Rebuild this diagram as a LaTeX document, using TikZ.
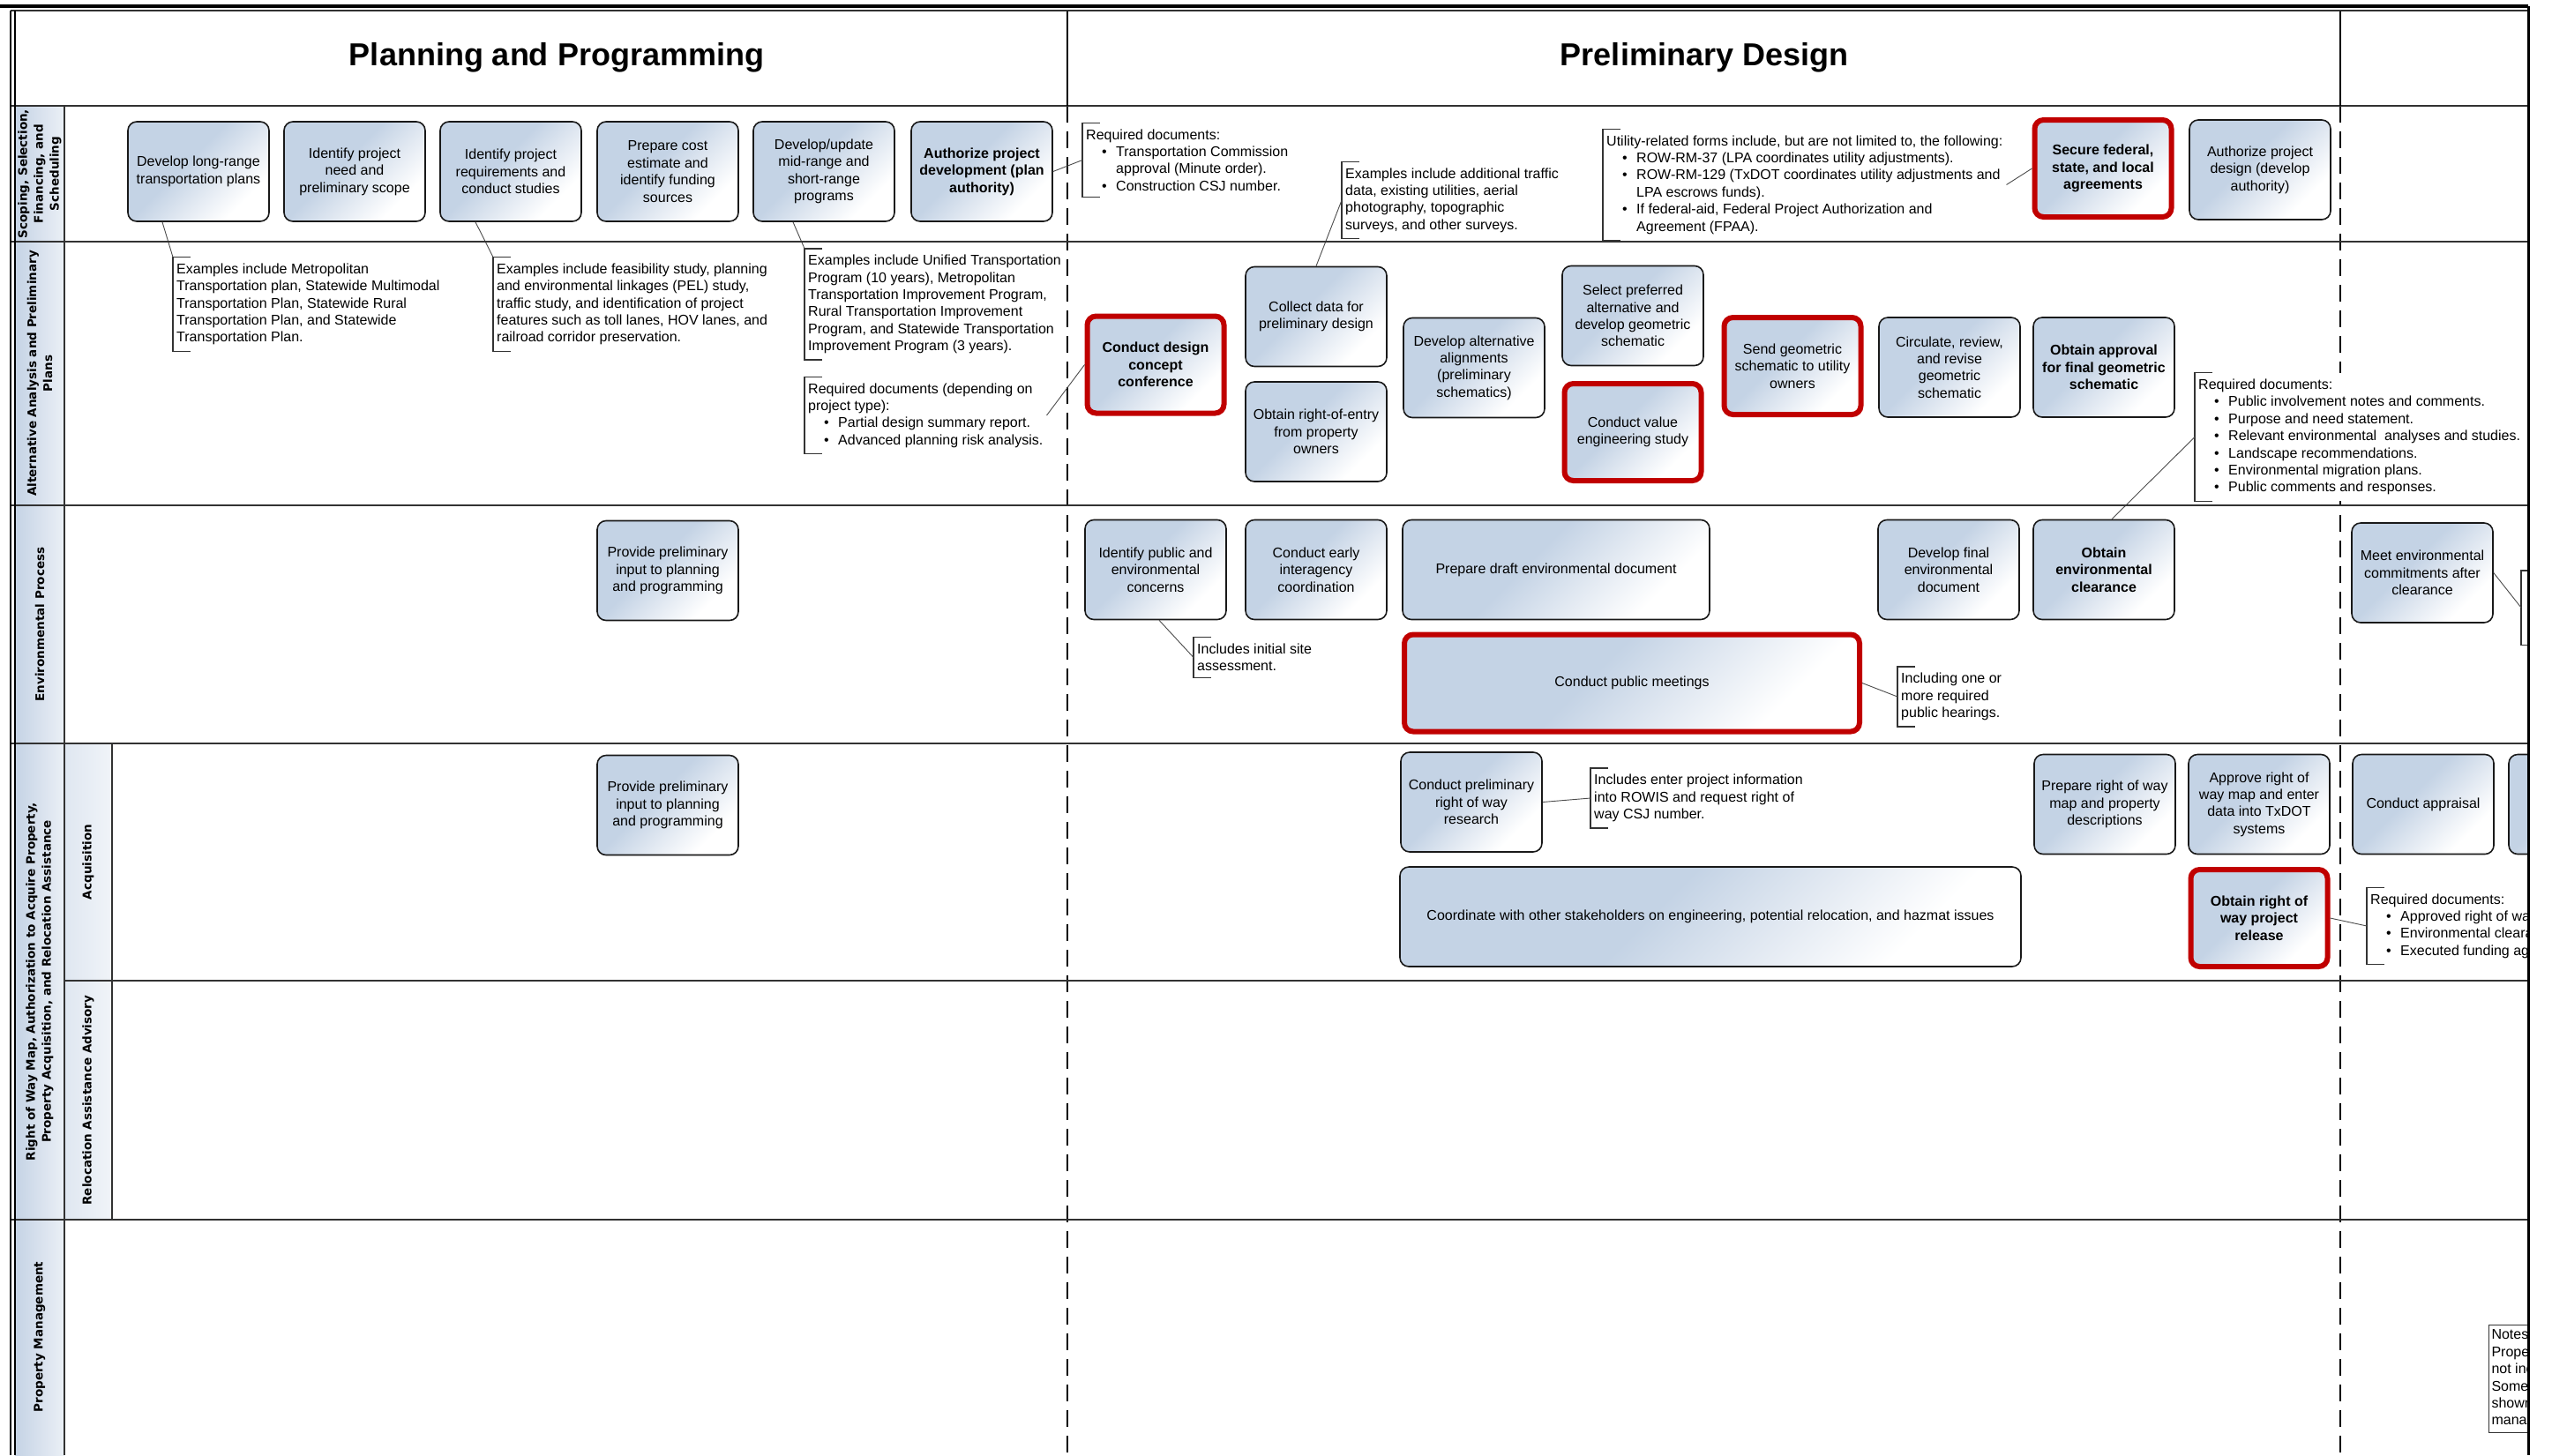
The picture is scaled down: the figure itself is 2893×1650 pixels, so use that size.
\documentclass[tikz,border=0pt]{standalone}
\usepackage{fontspec}
\setmainfont{Liberation Sans}
\newfontfamily\lanefont{DejaVu Sans}
\usetikzlibrary{calc}
\definecolor{boxblue}{RGB}{196,211,229}
\definecolor{boxmid}{RGB}{226,233,242}
\definecolor{boxred}{RGB}{192,0,0}
\definecolor{lanebl}{RGB}{197,211,229}
\definecolor{gridc}{RGB}{50,50,50}
\pgfdeclareverticalshading{boxsh}{100bp}{color(0bp)=(white); color(28bp)=(white); color(42bp)=(boxmid); color(56bp)=(boxblue); color(100bp)=(boxblue)}
\newcommand\bxf{\fontsize{16}{19.4}\selectfont}
\newcommand\lnf{\lanefont\bfseries\fontsize{13.5}{18}\selectfont}
\newcommand\nbul[1]{\hspace*{18pt}\makebox[16pt][l]{\textbullet}#1}
\newcommand\ncont[1]{\hspace*{34pt}#1}
\begin{document}
\begin{tikzpicture}[x=1pt,y=-1pt,
  box/.style={draw=black!90, line width=1.6pt, rounded corners=10pt, shading=boxsh, shading angle=45,
    align=center, font=\bxf, inner sep=2pt, minimum width=160pt, minimum height=113pt},
  boldbox/.style={box, font=\bxf\bfseries},
  redbox/.style={box, draw=boxred, line width=6pt, minimum width=155pt, minimum height=110pt},
  boldred/.style={redbox, font=\bxf\bfseries},
  note/.style={anchor=west, align=left, font=\bxf, fill=white, inner xsep=4pt, inner ysep=7pt},
  conn/.style={draw=black!70, line width=0.9pt},
  brk/.style={draw=black!80, line width=1.4pt},
  lanelbl/.style={rotate=90, align=center, font=\lnf},
  gridl/.style={draw=gridc, line width=2.5pt},
  dashl/.style={draw=black, line width=2.6pt, dash pattern=on 19pt off 10pt},
  titlef/.style={font=\fontsize{36}{40}\selectfont\bfseries}
]
\useasboundingbox (0,0) rectangle (2893,1650);
\fill[white] (0,0) rectangle (2893,1650);
\begin{scope}
\clip (0,0) rectangle (2866,1650);
% label columns
\fill[left color=lanebl, right color=lanebl!35!white] (17,120) rectangle (73,1650);
\fill[left color=lanebl!55!white, right color=lanebl!25!white] (73,843) rectangle (127,1383);
% dashed phase lines
\draw[dashl] (1210,120) -- (1210,1650);
\draw[dashl] (2653,120) -- (2653,1650);
% titles
\node[titlef] (t1) at (631,65) {Planning and Programming};
\node[titlef] (t2) at (1932,65) {Preliminary Design};
% lane labels
\node[lanelbl] (L1) at (45,197) {Scoping, Selection,\\Financing, and\\Scheduling};
\node[lanelbl] (L2) at (45,423.5) {Alternative Analysis and Preliminary\\Plans};
\node[lanelbl] (L3) at (45,708) {Environmental Process};
\node[lanelbl] (L4) at (45,1113) {Right of Way Map, Authorization to Acquire Property,\\Property Acquisition, and Relocation Assistance};
\node[lanelbl] (L4a) at (100,977.5) {Acquisition};
\node[lanelbl] (L4b) at (100,1247.5) {Relocation Assistance Advisory};
\node[lanelbl] (L5) at (45,1516) {Property Management};
% lane 1
\node[box] (b1) at (225,194.5) {Develop long-range\\transportation plans};
\node[box] (b2) at (402,194.5) {Identify project\\need and\\preliminary scope};
\node[box] (b3) at (579,194.5) {Identify project\\requirements and\\conduct studies};
\node[box] (b4) at (757,194.5) {Prepare cost\\estimate and\\identify funding\\sources};
\node[box] (b5) at (934,194.5) {Develop/update\\mid-range and\\short-range\\programs};
\node[boldbox] (b6) at (1113,194.5) {Authorize project\\development (plan\\authority)};
\node[boldred] (secure) at (2384,191) {Secure federal,\\state, and local\\agreements};
\node[box] (authd) at (2562,192.5) {Authorize project\\design (develop\\authority)};
% lane 2
\node[boldred] (cdc) at (1310,413.5) {Conduct design\\concept\\conference};
\node[box] (collect) at (1492,359) {Collect data for\\preliminary design};
\node[box] (roe) at (1492,489.5) {Obtain right-of-entry\\from property\\owners};
\node[box] (devalt) at (1671,417) {Develop alternative\\alignments\\(preliminary\\schematics)};
\node[box] (select) at (1851,358) {Select preferred\\alternative and\\develop geometric\\schematic};
\node[redbox] (vestudy) at (1851,490) {Conduct value\\engineering study};
\node[redbox] (sendgeo) at (2032,415) {Send geometric\\schematic to utility\\owners};
\node[box] (circ) at (2210,416.5) {Circulate, review,\\and revise\\geometric\\schematic};
\node[boldbox] (oappr) at (2385,416.5) {Obtain approval\\for final geometric\\schematic};
% lane 3
\node[box] (ppin1) at (757,647) {Provide preliminary\\input to planning\\and programming};
\node[box] (ipec) at (1310,646) {Identify public and\\environmental\\concerns};
\node[box] (ceic) at (1492,646) {Conduct early\\interagency\\coordination};
\node[box, minimum width=348pt] (pdraft) at (1764,646) {Prepare draft environmental document};
\node[box] (dfinal) at (2209,646) {Develop final\\environmental\\document};
\node[boldbox] (oec) at (2385,646) {Obtain\\environmental\\clearance};
\node[box] (meet) at (2746,649.5) {Meet environmental\\commitments after\\clearance};
\node[redbox, minimum width=516pt] (cpm) at (1850,774.5) {Conduct public meetings};
% lane 4
\node[box] (ppin2) at (757,913) {Provide preliminary\\input to planning\\and programming};
\node[box] (rowr) at (1668,909.5) {Conduct preliminary\\right of way\\research};
\node[box] (prow) at (2386,912) {Prepare right of way\\map and property\\descriptions};
\node[box] (aprow) at (2561,912) {Approve right of\\way map and enter\\data into TxDOT\\systems};
\node[box] (appr) at (2747,912) {Conduct appraisal};
\node[box] (partial) at (2924,912) {};
\node[box, minimum width=704pt] (coord) at (1939,1039.5) {Coordinate with other stakeholders on engineering, potential relocation, and hazmat issues};
\node[boldred] (orr) at (2561,1041) {Obtain right of\\way project\\release};
% notes
\node[note] (nR) at (1227,181.5) {Required documents:\\\nbul{Transportation Commission}\\\ncont{approval (Minute order).}\\\nbul{Construction CSJ number.}};
\node[note] (nT) at (1521,227) {Examples include additional traffic\\data, existing utilities, aerial\\photography, topographic\\surveys, and other surveys.};
\node[note] (nU) at (1817,209.5) {Utility-related forms include, but are not limited to, the following:\\\nbul{ROW-RM-37 (LPA coordinates utility adjustments).}\\\nbul{ROW-RM-129 (TxDOT coordinates utility adjustments and}\\\ncont{LPA escrows funds).}\\\nbul{If federal-aid, Federal Project Authorization and}\\\ncont{Agreement (FPAA).}};
\node[note] (nA) at (196,345) {Examples include Metropolitan\\Transportation plan, Statewide Multimodal\\Transportation Plan, Statewide Rural\\Transportation Plan, and Statewide\\Transportation Plan.};
\node[note] (nB) at (559,345) {Examples include feasibility study, planning\\and environmental linkages (PEL) study,\\traffic study, and identification of project\\features such as toll lanes, HOV lanes, and\\railroad corridor preservation.};
\node[note] (nC) at (912,345) {Examples include Unified Transportation\\Program (10 years), Metropolitan\\Transportation Improvement Program,\\Rural Transportation Improvement\\Program, and Statewide Transportation\\Improvement Program (3 years).};
\node[note] (nD) at (912,471) {Required documents (depending on\\project type):\\\nbul{Partial design summary report.}\\\nbul{Advanced planning risk analysis.}};
\node[note] (nE) at (2488,495.5) {Required documents:\\\nbul{Public involvement notes and comments.}\\\nbul{Purpose and need statement.}\\\nbul{Relevant environmental\ \ analyses and studies.}\\\nbul{Landscape recommendations.}\\\nbul{Environmental migration plans.}\\\nbul{Public comments and responses.}};
\node[note] (nF) at (1353,745.5) {Includes initial site\\assessment.};
\node[note] (nG) at (2151,790) {Including one or\\more required\\public hearings.};
\node[note] (nH) at (1803,905) {Includes enter project information\\into ROWIS and request right of\\way CSJ number.};
\node[note] (nI) at (2683,1050) {Required documents:\\\nbul{Approved right of way map.}\\\nbul{Environmental clearance.}\\\nbul{Executed funding agreement.}};
\node[note, minimum height=84pt, minimum width=30pt] (nM) at (2858,689) {};
\node[draw=black!80, line width=1pt, fill=white, anchor=west, align=left, font=\bxf, inner xsep=3pt, inner ysep=5.5pt] (nN) at (2821,1563.5) {Notes:\\Property\\not included\\Some\\shown\\management};
% brackets
\foreach \n in {nR,nT,nU,nA,nB,nC,nD,nE,nF,nG,nH,nI,nM}
  \draw[brk] ([xshift=20pt]\n.north west) -- (\n.north west) -- (\n.south west) -- ([xshift=20pt]\n.south west);
% connectors
\draw[conn] ([xshift=-41pt]b1.south) -- (nA.north west);
\draw[conn] ([xshift=-40pt]b3.south) -- (nB.north west);
\draw[conn] ([xshift=-35pt]b5.south) -- (nC.north west);
\draw[conn] (b6.east) -- (nR.west);
\draw[conn] (nD.east) -- (cdc.west);
\draw[conn] (collect.north) -- (nT.west);
\draw[conn] (nU.east) -- (secure.west);
\draw[conn] ([xshift=9pt]oec.north) -- (nE.west);
\draw[conn] ([xshift=4pt]ipec.south) -- (nF.west);
\draw[conn] (cpm.east) -- (nG.west);
\draw[conn] (rowr.east) -- (nH.west);
\draw[conn] (orr.east) -- (nI.west);
\draw[conn] (meet.east) -- (nM.west);
\end{scope}
% grid lines
\draw[gridl] (12,120) -- (2866,120);
\draw[gridl] (12,274) -- (2866,274);
\draw[gridl] (12,573) -- (2866,573);
\draw[gridl] (12,843) -- (2866,843);
\draw[gridl] (73,1112) -- (2866,1112);
\draw[gridl] (12,1383) -- (2866,1383);
\draw[draw=gridc, line width=1.5pt] (73,120) -- (73,1650);
\draw[draw=gridc, line width=1.5pt] (127,843) -- (127,1383);
\draw[line width=2pt] (1210,12) -- (1210,120);
\draw[line width=2pt] (2653,12) -- (2653,120);
% frame
\draw[line width=3.5pt] (0,7) -- (2866,7);
\draw[draw=gridc, line width=1.5pt] (12,12) -- (2866,12);
\draw[line width=1.5pt] (12,12) -- (12,1650);
\draw[line width=1.5pt] (17,12) -- (17,1650);
\draw[line width=3pt] (2866,7) -- (2866,1650);
\end{tikzpicture}
\end{document}
